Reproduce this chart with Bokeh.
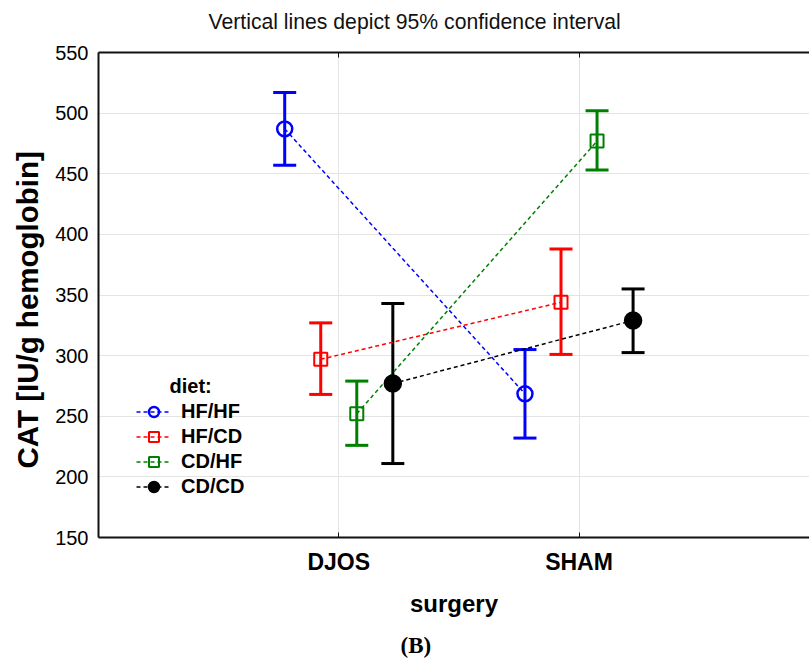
from bokeh.plotting import figure
from bokeh.models import (Range1d, FixedTicker, LinearAxis, ColumnDataSource, Whisker,
                          TeeHead, Legend, LegendItem, Label, Title)
from bokeh.embed import file_html
from bokeh.resources import INLINE

# ---- data ----
surgery = ["DJOS", "SHAM"]
diets = ["HF/HF", "HF/CD", "CD/HF", "CD/CD"]
mean_hfhf = [487, 268.5]
low_hfhf = [457, 232]
up_hfhf = [517, 305]
mean_hfcd = [297, 344]
low_hfcd = [268, 301]
up_hfcd = [327, 388]
mean_cdhf = [252, 477]
low_cdhf = [226, 453]
up_cdhf = [279, 502]
mean_cdcd = [277, 329]
low_cdcd = [211, 302.5]
up_cdcd = [343, 355]
y_ticks = [150, 200, 250, 300, 350, 400, 450, 500, 550]

series = [
    (diets[0], mean_hfhf, low_hfhf, up_hfhf),
    (diets[1], mean_hfcd, low_hfcd, up_hfcd),
    (diets[2], mean_cdhf, low_cdhf, up_cdhf),
    (diets[3], mean_cdcd, low_cdcd, up_cdcd),
]

# ---- style ----
colors = ["#0000FF", "#FF0000", "#008000", "#000000"]
markers = ["circle", "square", "square", "circle"]
msizes = [15, 13, 13, 16]
mfills = [None, None, None, "#000000"]
offsets = [-0.225, -0.075, 0.075, 0.225]
FONT = "Liberation Sans"
AX = "#111111"

W, H = 809, 662
BL, BT, BB = 97, 52, 125
frame_w = W - BL
unit_px = 240.6
x_end = frame_w / unit_px

p = figure(width=W, height=H, output_backend="svg", toolbar_location=None, title=None,
           x_range=Range1d(0, x_end), y_range=Range1d(150, 550),
           min_border_left=BL, min_border_right=0, min_border_top=BT, min_border_bottom=BB)
p.outline_line_color = None
p.background_fill_color = "white"

cat_pos = [i + 1 for i in range(len(surgery))]

# x axis
xa = p.xaxis[0]
xa.ticker = FixedTicker(ticks=cat_pos)
xa.major_label_overrides = {c: s for c, s in zip(cat_pos, surgery)}
xa.major_label_text_font = FONT
xa.major_label_text_font_style = "bold"
xa.major_label_text_font_size = "23px"
xa.major_label_text_color = "black"
xa.major_label_standoff = 11
xa.major_tick_in = 5
xa.major_tick_out = 0
xa.minor_tick_line_color = None
xa.axis_line_width = 2
xa.axis_line_color = AX
xa.major_tick_line_color = AX
xa.axis_label = "surgery"
xa.axis_label_text_font = FONT
xa.axis_label_text_font_style = "bold"
xa.axis_label_text_font_size = "24px"
xa.axis_label_text_color = "black"
xa.axis_label_standoff = 12


def spacer(size):
    # invisible axis used only to reserve space in a side panel;
    # its single tick sits on the right edge of the canvas, so nothing shows
    return LinearAxis(ticker=FixedTicker(ticks=[x_end]), axis_line_color=None,
                      major_tick_line_color="white", minor_tick_line_color=None,
                      major_tick_in=0, major_tick_out=size, minor_tick_out=0,
                      major_label_standoff=0, major_label_overrides={x_end: ""})


# top axis (frame line)
ta = LinearAxis(ticker=FixedTicker(ticks=cat_pos),
                major_label_overrides={c: "" for c in cat_pos},
                major_tick_in=5, major_tick_out=0, minor_tick_line_color=None,
                axis_line_width=2, axis_line_color=AX, major_tick_line_color=AX,
                major_label_standoff=0)
p.add_layout(ta, "above")
p.add_layout(spacer(15), "above")
p.add_layout(spacer(9), "below")

# y axis
ya = p.yaxis[0]
ya.ticker = FixedTicker(ticks=y_ticks)
ya.major_label_text_font = FONT
ya.major_label_text_font_size = "20px"
ya.major_label_text_color = "black"
ya.major_label_standoff = 10
ya.major_tick_in = 0
ya.major_tick_out = 0
ya.minor_tick_line_color = None
ya.axis_line_width = 2
ya.axis_line_color = AX

p.xgrid.ticker = FixedTicker(ticks=cat_pos)
p.ygrid.ticker = FixedTicker(ticks=y_ticks)
p.xgrid.grid_line_color = "#e4e4e4"
p.ygrid.grid_line_color = "#e4e4e4"

items = []
for k, (name, mean, low, up) in enumerate(series):
    xs = [c + offsets[k] for c in cat_pos]
    src = ColumnDataSource(dict(x=xs, y=mean, lower=low, upper=up))
    lr = p.line("x", "y", source=src, line_color=colors[k], line_width=1.5, line_dash="4 3")
    w = Whisker(base="x", lower="lower", upper="upper", source=src,
                line_color=colors[k], line_width=3,
                upper_head=TeeHead(size=23, line_color=colors[k], line_width=3),
                lower_head=TeeHead(size=23, line_color=colors[k], line_width=3))
    p.add_layout(w)
    sr = p.scatter("x", "y", source=src, marker=markers[k], size=msizes[k],
                   line_color=colors[k], line_width=2.5 if markers[k] == "circle" else 2,
                   fill_color=mfills[k])
    items.append(LegendItem(label=name, renderers=[lr, sr]))

legend = Legend(items=items, location=(38, 38.5), orientation="vertical",
                padding=0, margin=0, spacing=0, glyph_width=35, glyph_height=25,
                label_height=25, label_standoff=10, label_text_font=FONT,
                label_text_font_style="bold", label_text_font_size="20px",
                label_text_color="black",
                border_line_color=None, background_fill_alpha=0)
p.add_layout(legend)

p.add_layout(Label(x=71, y=152, x_units="screen", y_units="screen", text="diet:",
                   text_font=FONT, text_font_style="bold", text_font_size="20px",
                   text_color="black", text_baseline="alphabetic", text_align="left"))

# titles / outer texts
t_top = Title(text="Vertical lines depict 95% confidence interval", align="left", offset=110,
              text_font=FONT, text_font_style="normal", text_font_size="21.2px",
              text_color="#111111", standoff=10)
p.add_layout(t_top, "above")

t_left = Title(text="CAT [IU/g hemoglobin]", align="left", offset=69,
               text_font=FONT, text_font_style="bold", text_font_size="29.5px",
               text_color="black", standoff=17)
p.add_layout(t_left, "left")

t_below = Title(text="(B)", align="left", offset=302,
                text_font="Liberation Serif", text_font_style="bold", text_font_size="23px",
                text_color="black", standoff=4)
p.add_layout(t_below, "below")

open("out.html", "w").write(file_html(p, INLINE))
